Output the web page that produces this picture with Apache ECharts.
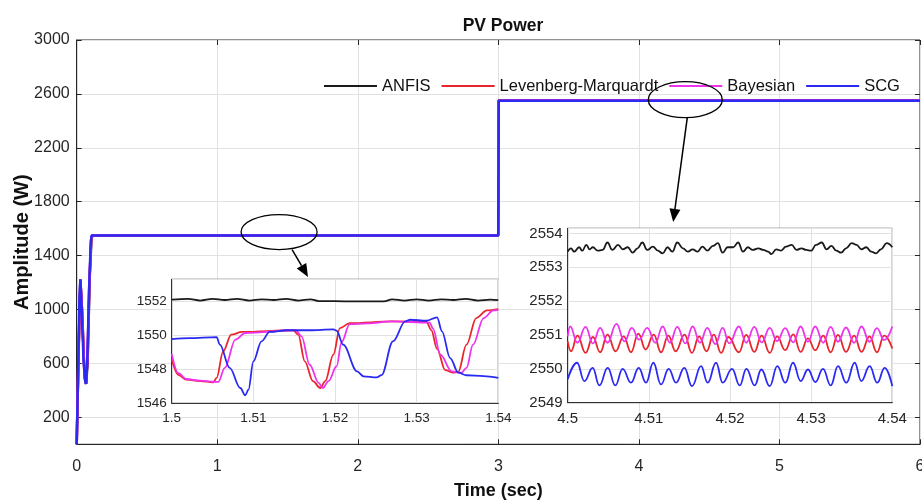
<!DOCTYPE html>
<html><head><meta charset="utf-8">
<script src="https://cdn.jsdelivr.net/npm/echarts@6/dist/echarts.min.js"></script>
<style>html,body{margin:0;padding:0;background:#fff}#c{width:922px;height:504px}</style>
</head><body><div id="c"></div>
<script>
// ---------- data ----------
const seriesNames = ['ANFIS', 'Levenberg-Marquardt', 'Bayesian', 'SCG'];
const seriesColors = ['#1a1a1a', '#e8262c', '#ee33ee', '#2a2af2'];
const mainYTicks = [200, 600, 1000, 1400, 1800, 2200, 2600, 3000];

// main plot [time, power]
const mainANFIS = [[0,0],[0.006,0],[0.014,700],[0.026,1220],[0.04,950],[0.056,500],[0.068,450],[0.078,620],[0.093,1250],[0.105,1520],[0.112,1552],[2.999,1552],[3.003,2553.6],[6,2553.6]];
const mainLM = [[0,0],[0.006,0],[0.013,680],[0.026,1225],[0.038,1000],[0.055,510],[0.066,448],[0.077,640],[0.09,1200],[0.103,1520],[0.11,1550],[2.999,1550],[3.003,2550.8],[6,2550.8]];
const mainBayes = [[0,0],[0.006,0],[0.013,680],[0.026,1225],[0.038,1000],[0.055,510],[0.066,448],[0.077,640],[0.09,1200],[0.103,1520],[0.11,1550],[2.999,1550],[3.003,2551],[6,2551]];
const mainSCG = [[0,0],[0.006,0],[0.012,650],[0.02,1100],[0.026,1225],[0.034,1050],[0.048,640],[0.06,470],[0.066,448],[0.075,600],[0.088,1150],[0.1,1500],[0.106,1550],[2.999,1550],[3.003,2549.8],[6,2549.8]];

// inset 1 (1.50 - 1.54 s)
const in1ANFIS = [[1.5,1552.1],[1.502,1552.15],[1.5035,1552.05],[1.505,1552.15],[1.5065,1552.08],[1.508,1552.15],[1.5095,1552.05],[1.511,1552.12],[1.5125,1552.08],[1.514,1552.15],[1.5155,1552.05],[1.517,1552.12],[1.518,1552.02],[1.522,1552.0],[1.526,1552.0],[1.527,1552.12],[1.5285,1552.05],[1.53,1552.12],[1.5315,1552.05],[1.533,1552.12],[1.5345,1552.08],[1.536,1552.15],[1.5375,1552.05],[1.539,1552.1],[1.54,1552.07]];
const in1LM = [[1.5,1548.6],[1.5008,1547.68],[1.5018,1547.39],[1.5035,1547.3],[1.5051,1547.24],[1.5055,1547.5],[1.5063,1549.06],[1.5073,1550.04],[1.5086,1550.2],[1.5149,1550.3],[1.5155,1550.04],[1.5163,1548.47],[1.5173,1547.3],[1.5182,1546.9],[1.5188,1547.3],[1.5198,1548.86],[1.5206,1550.43],[1.5218,1550.72],[1.527,1550.82],[1.5312,1550.8],[1.5318,1550.3],[1.5325,1549.2],[1.5335,1547.95],[1.5345,1547.8],[1.5351,1547.85],[1.5361,1549.45],[1.5373,1551.02],[1.5386,1551.47],[1.54,1551.55]];
const in1Bayes = [[1.5,1548.9],[1.5008,1547.78],[1.5018,1547.43],[1.5035,1547.33],[1.5051,1547.27],[1.5057,1547.26],[1.5065,1548.08],[1.5078,1549.75],[1.509,1550.14],[1.5152,1550.3],[1.5159,1549.94],[1.5169,1548.27],[1.518,1547.2],[1.5185,1546.9],[1.5192,1547.3],[1.5202,1548.18],[1.5208,1549.6],[1.5218,1550.66],[1.524,1550.7],[1.527,1550.82],[1.5316,1550.75],[1.532,1550.4],[1.5329,1548.86],[1.5343,1547.88],[1.5355,1547.8],[1.5361,1548.08],[1.5369,1549.45],[1.5382,1551.02],[1.5394,1551.47],[1.54,1551.5]];
const in1SCG = [[1.5,1549.78],[1.5022,1549.84],[1.5055,1549.9],[1.5059,1549.45],[1.5071,1548.08],[1.5084,1546.9],[1.509,1546.47],[1.5094,1546.8],[1.51,1548.47],[1.511,1549.65],[1.512,1550.2],[1.5141,1550.3],[1.5169,1550.3],[1.5198,1550.35],[1.5202,1550.27],[1.521,1549.45],[1.5227,1547.88],[1.5235,1547.59],[1.5251,1547.53],[1.5257,1547.66],[1.5271,1549.65],[1.5286,1550.82],[1.5292,1550.92],[1.5312,1550.86],[1.5325,1551.06],[1.5331,1550.24],[1.5341,1548.66],[1.5351,1547.8],[1.5361,1547.65],[1.5382,1547.6],[1.54,1547.49]];

// inset 2 (4.50 - 4.54 s)
const in2ANFIS = [[4.5,2553.46],[4.5004,2553.56],[4.5008,2553.46],[4.5014,2553.59],[4.5018,2553.49],[4.5023,2553.66],[4.5027,2553.53],[4.5031,2553.59],[4.5037,2553.49],[4.5043,2553.51],[4.5049,2553.73],[4.5055,2553.51],[4.5062,2553.66],[4.5068,2553.53],[4.5074,2553.59],[4.508,2553.43],[4.5086,2553.56],[4.5092,2553.73],[4.5098,2553.51],[4.5105,2553.61],[4.5111,2553.49],[4.5117,2553.41],[4.5123,2553.59],[4.5129,2553.46],[4.5135,2553.73],[4.5142,2553.56],[4.5148,2553.46],[4.5154,2553.53],[4.516,2553.46],[4.5166,2553.61],[4.5172,2553.49],[4.5179,2553.63],[4.5185,2553.71],[4.5191,2553.43],[4.5197,2553.59],[4.5204,2553.59],[4.521,2553.73],[4.5216,2553.46],[4.5222,2553.59],[4.5228,2553.51],[4.5235,2553.56],[4.5241,2553.51],[4.5247,2553.46],[4.5251,2553.39],[4.5257,2553.53],[4.5263,2553.49],[4.5269,2553.61],[4.5276,2553.66],[4.5282,2553.51],[4.5288,2553.56],[4.5294,2553.51],[4.53,2553.49],[4.5306,2553.66],[4.5313,2553.73],[4.5319,2553.53],[4.5325,2553.63],[4.5331,2553.49],[4.5337,2553.43],[4.5343,2553.56],[4.535,2553.71],[4.5356,2553.66],[4.5362,2553.53],[4.5368,2553.59],[4.5374,2553.46],[4.538,2553.41],[4.5386,2553.53],[4.5393,2553.71],[4.54,2553.59]];
const in2LM = [[4.5,2550.81],[4.5004,2550.52],[4.5012,2550.98],[4.5022,2550.47],[4.5031,2550.94],[4.504,2550.49],[4.5049,2551.01],[4.5059,2550.52],[4.5069,2550.96],[4.5078,2550.49],[4.5087,2551.04],[4.5096,2550.57],[4.5106,2551.01],[4.5115,2550.49],[4.5124,2550.98],[4.5133,2550.52],[4.5144,2551.01],[4.5153,2550.47],[4.5162,2550.96],[4.5171,2550.52],[4.518,2551.01],[4.5189,2550.47],[4.5198,2550.94],[4.5211,2550.49],[4.522,2551.0],[4.523,2550.5],[4.5239,2550.98],[4.5249,2550.47],[4.5258,2550.96],[4.5268,2550.55],[4.5278,2551.02],[4.5287,2550.5],[4.5296,2550.9],[4.5305,2550.55],[4.5315,2550.98],[4.5324,2550.49],[4.5333,2551.0],[4.5343,2550.5],[4.5353,2550.98],[4.5362,2550.5],[4.5372,2550.96],[4.5381,2550.49],[4.539,2550.98],[4.54,2550.6]];
const in2Bayes = [[4.5,2550.96],[4.5003,2551.25],[4.5012,2550.77],[4.5022,2551.24],[4.5031,2550.75],[4.504,2551.21],[4.5049,2550.77],[4.506,2551.33],[4.507,2550.81],[4.5079,2551.21],[4.5088,2550.86],[4.5098,2551.21],[4.5108,2550.77],[4.5117,2551.25],[4.5126,2550.77],[4.5135,2551.24],[4.5145,2550.75],[4.5154,2551.25],[4.5163,2550.77],[4.5172,2551.21],[4.5182,2550.73],[4.5191,2551.21],[4.5199,2550.75],[4.5211,2551.25],[4.522,2550.77],[4.523,2551.24],[4.5239,2550.78],[4.5249,2551.21],[4.5258,2550.82],[4.5268,2551.2],[4.5278,2550.78],[4.5287,2551.25],[4.5296,2550.8],[4.5305,2551.25],[4.5315,2550.77],[4.5324,2551.24],[4.5333,2550.8],[4.5343,2551.22],[4.5353,2550.77],[4.5362,2551.25],[4.5372,2550.8],[4.5381,2551.2],[4.539,2550.85],[4.54,2551.25]];
const in2SCG = [[4.5,2549.69],[4.50115,2550.18],[4.50205,2549.64],[4.50308,2550.03],[4.5039,2549.51],[4.50493,2550.03],[4.50587,2549.51],[4.50677,2550.0],[4.5078,2549.59],[4.50875,2550.03],[4.50965,2549.59],[4.51055,2550.18],[4.5115,2549.54],[4.51245,2550.0],[4.51335,2549.59],[4.51437,2550.03],[4.51532,2549.49],[4.51643,2550.08],[4.51725,2549.59],[4.51828,2550.18],[4.5191,2549.59],[4.52025,2550.0],[4.5212,2549.51],[4.52202,2550.0],[4.52304,2549.51],[4.52386,2549.98],[4.52489,2549.49],[4.52583,2550.08],[4.52682,2549.59],[4.52776,2550.18],[4.52871,2549.64],[4.52961,2549.98],[4.53052,2549.61],[4.53146,2550.0],[4.53241,2549.51],[4.53331,2550.08],[4.53434,2549.59],[4.53536,2550.18],[4.53618,2549.64],[4.53721,2550.08],[4.53815,2549.59],[4.53906,2550.03],[4.54,2549.49]];

// annotation anchors (data coords on main axes)
const ellipse1At = [1.44, 1575], arrow1To = [1.646, 1242];
const ellipse2At = [4.33, 2557], arrow2To = [4.244, 1650];

// ---------- chart ----------
const FN = "'Liberation Sans',Arial,Helvetica,sans-serif";
const AX = '#262626', GRID = '#e2e2e2', TXT = '#262626';
const MAIN = {left: 76.7, right: 2, top: 40, bottom: 59.7};
const MAIN_W = 922 - MAIN.left - MAIN.right, MAIN_H = 504 - MAIN.top - MAIN.bottom;
const chart = echarts.init(document.getElementById('c'), null, {renderer: 'canvas'});

function lineSeries(name, idx, data, axis, width, extra) {
  return Object.assign({
    type: 'line', name: name, data: data, xAxisIndex: axis, yAxisIndex: axis,
    showSymbol: false, symbol: 'none', animation: false,
    lineStyle: {color: seriesColors[idx], width: width}, itemStyle: {color: seriesColors[idx]}
  }, extra || {});
}
const mains = [mainANFIS, mainLM, mainBayes, mainSCG];
const in1 = [in1ANFIS, in1LM, in1Bayes, in1SCG];
const in2 = [in2ANFIS, in2LM, in2Bayes, in2SCG];
const series = [];
seriesNames.forEach((n, i) => series.push(lineSeries(n, i, mains[i], 0, 2.5, {z: 2})));
seriesNames.forEach((n, i) => series.push(lineSeries(n, i, in1[i], 3, 1.8, {z: 6, smooth: 0.35, smoothMonotone: 'x'})));
seriesNames.forEach((n, i) => series.push(lineSeries(n, i, in2[i], 4, 1.8, {z: 6, smooth: 0.45, smoothMonotone: 'x'})));

const plain = (v) => String(Math.round(v * 1000) / 1000);
const tickLbl = (size, margin) => ({color: TXT, fontFamily: FN, fontSize: size, margin: margin, formatter: plain});
// helper axes that only carry tick marks; placed on the opposite edge so the marks point into the plot
function tickAxis(dim, pos, offset, extra) {
  return Object.assign({gridIndex: 0, type: 'value', position: pos, offset: offset,
    axisLine: {show: false, onZero: false}, axisTick: {show: true, length: 5, lineStyle: {color: AX}},
    axisLabel: {show: false}, splitLine: {show: false}, silent: true}, extra);
}
const X0 = {min: 0, max: 6, interval: 1};
const Y0 = {min: 0, max: 3000, axisTick: {show: true, length: 5, lineStyle: {color: AX}, customValues: mainYTicks}};

const option = {
  animation: false,
  backgroundColor: '#fff',
  title: {text: 'PV Power', left: 498, top: 12, textAlign: 'center',
    textStyle: {fontFamily: FN, fontSize: 17.5, fontWeight: 'bold', color: '#111'}},
  legend: {
    data: seriesNames, left: 324, top: 77.6, padding: 0, itemGap: 11, itemWidth: 53, itemHeight: 2,
    icon: 'rect', textStyle: {fontFamily: FN, fontSize: 16.5, color: '#111'}, z: 8
  },
  grid: [
    Object.assign({outerBoundsMode: 'none', containLabel: false, show: true, borderColor: AX, borderWidth: 1, backgroundColor: 'transparent', z: 0}, MAIN),
    {left: 171.7, top: 279.3, width: 326.6, height: 124, outerBoundsMode: 'none', containLabel: false, show: true, borderColor: '#333', borderWidth: 1, backgroundColor: '#fff', z: 3},
    {left: 567.7, top: 228.3, width: 324.6, height: 174.4, outerBoundsMode: 'none', containLabel: false, show: true, borderColor: '#333', borderWidth: 1, backgroundColor: '#fff', z: 3}
  ],
  xAxis: [
    Object.assign({gridIndex: 0, type: 'value', position: 'bottom',
      name: 'Time (sec)', nameLocation: 'middle', nameGap: 38, nameMoveOverlap: false,
      nameTextStyle: {fontFamily: FN, fontSize: 18, fontWeight: 'bold', color: '#111'},
      axisLine: {show: true, onZero: false, lineStyle: {color: AX}}, axisTick: {show: false},
      axisLabel: Object.assign(tickLbl(16, 14), {showMaxLabel: true, showMinLabel: true, hideOverlap: false}),
      splitLine: {show: true, lineStyle: {color: GRID}}}, X0),
    tickAxis('x', 'top', -MAIN_H, X0),      // ticks up from the bottom edge
    tickAxis('x', 'bottom', -MAIN_H, X0),   // ticks down from the top edge
    {gridIndex: 1, type: 'value', min: 1.5, max: 1.54, interval: 0.01, z: 4,
      axisLine: {lineStyle: {color: '#333'}, onZero: false}, axisTick: {show: false},
      axisLabel: Object.assign(tickLbl(13.5, 8), {showMaxLabel: true, showMinLabel: true, hideOverlap: false}),
      splitLine: {show: true, lineStyle: {color: GRID}}},
    {gridIndex: 2, type: 'value', min: 4.5, max: 4.54, interval: 0.01, z: 4,
      axisLine: {lineStyle: {color: '#333'}, onZero: false}, axisTick: {show: false},
      axisLabel: Object.assign(tickLbl(15, 9), {showMaxLabel: true, showMinLabel: true, hideOverlap: false}),
      splitLine: {show: true, lineStyle: {color: GRID}}}
  ],
  yAxis: [
    {gridIndex: 0, type: 'value', min: 0, max: 3000, position: 'left',
      name: 'Amplitude (W)', nameLocation: 'middle', nameGap: 44, nameRotate: 90, nameMoveOverlap: false,
      nameTextStyle: {fontFamily: FN, fontSize: 20, fontWeight: 'bold', color: '#111'},
      axisLine: {show: true, onZero: false, lineStyle: {color: AX}},
      axisTick: {show: false, customValues: mainYTicks},
      axisLabel: Object.assign(tickLbl(16, 7), {customValues: mainYTicks}),
      splitLine: {show: true, lineStyle: {color: GRID}}},
    tickAxis('y', 'right', -MAIN_W, Y0),    // ticks right from the left edge
    tickAxis('y', 'left', -MAIN_W, Y0),     // ticks left from the right edge
    {gridIndex: 1, type: 'value', min: 1546, max: 1553.3, interval: 2, z: 4,
      axisLine: {show: true, onZero: false, lineStyle: {color: '#333'}}, axisTick: {show: false},
      axisLabel: Object.assign(tickLbl(13.5, 5), {showMaxLabel: false}),
      splitLine: {show: true, lineStyle: {color: GRID}}},
    {gridIndex: 2, type: 'value', min: 2549, max: 2554.15, interval: 1, z: 4,
      axisLine: {show: true, onZero: false, lineStyle: {color: '#333'}}, axisTick: {show: false},
      axisLabel: Object.assign(tickLbl(15, 5), {showMaxLabel: false}),
      splitLine: {show: true, lineStyle: {color: GRID}}}
  ],
  series: series
};
chart.setOption(option);

// ---------- annotations (ellipses + arrows) ----------
function arrow(from, to) {
  const dx = to[0] - from[0], dy = to[1] - from[1];
  const L = Math.hypot(dx, dy), ux = dx / L, uy = dy / L;
  const hl = 13, hw = 5.5;
  const bx = to[0] - ux * hl, by = to[1] - uy * hl;
  return [
    {type: 'line', z: 20, shape: {x1: from[0], y1: from[1], x2: bx, y2: by}, style: {stroke: '#000', lineWidth: 1.5}},
    {type: 'polygon', z: 20, shape: {points: [[to[0], to[1]], [bx - uy * hw, by + ux * hw], [bx + uy * hw, by - ux * hw]]}, style: {fill: '#000'}}
  ];
}
const p = (d) => chart.convertToPixel({xAxisIndex: 0, yAxisIndex: 0}, d);
const e1 = p(ellipse1At), e2 = p(ellipse2At);
const g = [
  {type: 'ellipse', z: 20, shape: {cx: e1[0], cy: e1[1], rx: 38, ry: 17.5}, style: {fill: 'none', stroke: '#000', lineWidth: 1.3}},
  {type: 'ellipse', z: 20, shape: {cx: e2[0], cy: e2[1], rx: 37, ry: 18}, style: {fill: 'none', stroke: '#000', lineWidth: 1.3}}
].concat(arrow([e1[0] + 13, e1[1] + 17.5], p(arrow1To)), arrow([e2[0] + 2, e2[1] + 18], p(arrow2To)));
chart.setOption({graphic: g});
</script>
</body></html>
